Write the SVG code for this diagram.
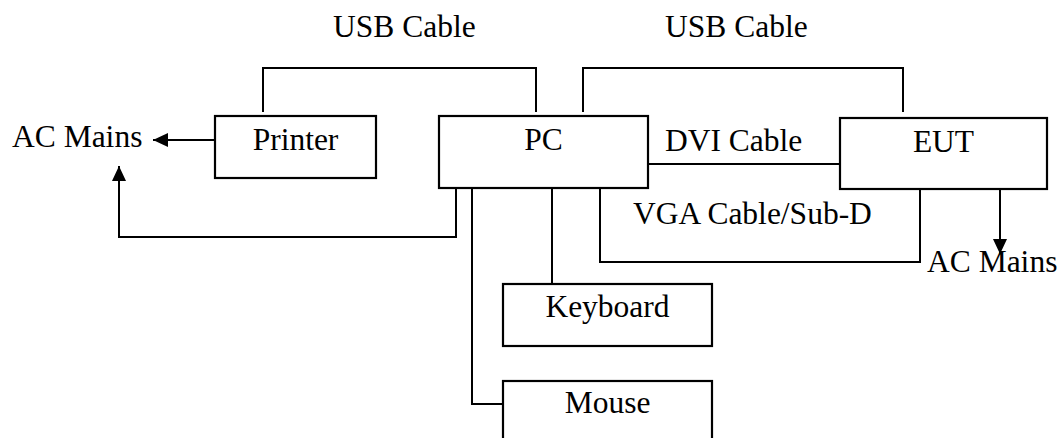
<svg xmlns="http://www.w3.org/2000/svg" width="1060" height="438" viewBox="0 0 1060 438">
<style>
.box{fill:#fff;stroke:#000;stroke-width:2.2}
.ln{fill:none;stroke:#000;stroke-width:2}
text{font-family:"Liberation Serif","Times New Roman",serif;font-size:31.5px;fill:#000}
.c{text-anchor:middle}
</style>
<defs>
<marker id="ah" markerUnits="userSpaceOnUse" markerWidth="16" markerHeight="14" refX="15" refY="7" orient="auto">
<path d="M0,0 L15,7 L0,14 z" fill="#000"/>
</marker>
</defs>
<rect width="1060" height="438" fill="#fff"/>
<g id="connectors">
<path class="ln" d="M263,112 V68 H536 V112"/>
<path class="ln" d="M583,112 V68 H903 V112"/>
<path class="ln" d="M215,140 H153" marker-end="url(#ah)"/>
<path class="ln" d="M456,188 V237 H119 V166" marker-end="url(#ah)"/>
<path class="ln" d="M648,164 H840"/>
<path class="ln" d="M600,188 V262 H920 V189"/>
<path class="ln" d="M1000,189 V254" marker-end="url(#ah)"/>
<path class="ln" d="M552,188 V285"/>
<path class="ln" d="M472,188 V404 H503"/>
</g>
<g id="labels">
<text x="333" y="37">USB Cable</text>
<text x="665" y="37">USB Cable</text>
<text x="665" y="151">DVI Cable</text>
<text x="633" y="224">VGA Cable/Sub-D</text>
<text x="12" y="147">AC Mains</text>
<text x="927" y="272">AC Mains</text>
</g>
<g id="printer">
<rect class="box" x="215" y="116" width="161" height="62"/>
<text class="c" x="295.5" y="150">Printer</text>
</g>
<g id="pc">
<rect class="box" x="439" y="116" width="209" height="72"/>
<text class="c" x="543.5" y="150">PC</text>
</g>
<g id="eut">
<rect class="box" x="840" y="118" width="207" height="71"/>
<text class="c" x="943.5" y="152">EUT</text>
</g>
<g id="keyboard">
<rect class="box" x="503" y="284" width="209" height="62"/>
<text class="c" x="607.5" y="317">Keyboard</text>
</g>
<g id="mouse">
<rect class="box" x="503" y="381" width="209" height="80"/>
<text class="c" x="607.5" y="413">Mouse</text>
</g>
</svg>
